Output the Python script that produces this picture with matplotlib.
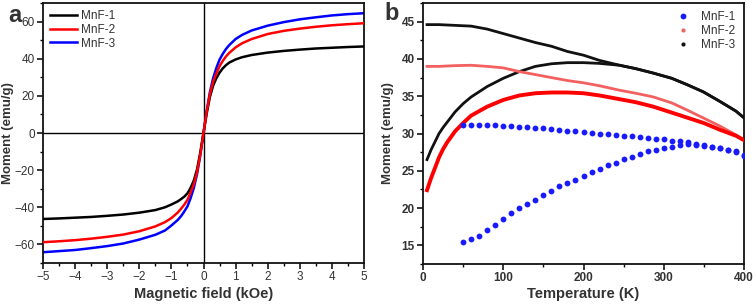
import matplotlib
matplotlib.use("Agg")
import matplotlib.pyplot as plt
from matplotlib.lines import Line2D
from matplotlib.ticker import MultipleLocator

plt.rcParams['font.family'] = ['Liberation Sans', 'DejaVu Sans']

# ---------------- Panel a: M-H loops ----------------
field = [-5, -4.5, -4, -3.5, -3, -2.5, -2, -1.5, -1.2, -1.0, -0.8, -0.7, -0.6, -0.5, -0.4, -0.3, -0.2, -0.1, 0,
         0.1, 0.2, 0.3, 0.4, 0.5, 0.6, 0.7, 0.8, 1.0, 1.2, 1.5, 2, 2.5, 3, 3.5, 4, 4.5, 5]
m_mnf1 = [-46.3, -46.0, -45.6, -45.2, -44.6, -43.9, -42.9, -41.5, -40.0, -38.5, -36.8, -35.6, -34.3, -32.5, -29.5,
          -25.5, -19.5, -10.5, 0,
          10.5, 19.5, 25.5, 29.5, 32.5, 34.8, 36.5, 37.9, 39.6, 40.8, 42.0, 43.3, 44.2, 44.9, 45.5, 45.9, 46.3, 46.6]
m_mnf2 = [-58.8, -58.3, -57.7, -56.9, -55.9, -54.7, -52.9, -50.3, -48.0, -45.8, -42.8, -40.8, -38.6, -36.0, -32.0,
          -27.5, -21.0, -11.5, 0,
          11.5, 21.0, 27.5, 32.0, 36.0, 38.8, 41.2, 43.1, 46.1, 48.3, 50.6, 53.3, 55.0, 56.2, 57.2, 58.0, 58.6, 59.1]
m_mnf3 = [-64.2, -63.6, -63.0, -62.0, -60.9, -59.5, -57.4, -54.8, -52.5, -49.8, -46.8, -44.8, -42.3, -39.5, -35.0,
          -29.5, -22.0, -12.0, 0,
          12.0, 22.0, 29.5, 35.0, 39.5, 42.6, 45.2, 47.3, 50.6, 52.8, 55.2, 57.8, 59.7, 61.2, 62.3, 63.3, 64.0, 64.5]

# ---------------- Panel b: ZFC / FC ----------------
t_blue = [50, 60, 70, 80, 90, 100, 110, 120, 130, 140, 150, 160, 170, 180, 190, 200, 210, 220,
          230, 240, 250, 260, 270, 280, 290, 300, 310, 320, 330, 340, 350, 360, 370, 380, 390, 400]
mnf1_zfc = [15.4, 15.8, 16.2, 17.0, 17.7, 18.5, 19.3, 20.0, 20.5, 21.1, 21.7, 22.3, 22.9, 23.3, 23.8, 24.3, 24.8, 25.3,
            25.8, 26.1, 26.6, 26.9, 27.3, 27.6, 27.8, 28.0, 28.2, 28.4, 28.6, 28.5, 28.3, 28.2, 28.0, 27.8, 27.6, 27.1]
mnf1_fc = [31.2, 31.2, 31.2, 31.1, 31.1, 31.0, 31.0, 30.9, 30.9, 30.8, 30.7, 30.6, 30.5, 30.4, 30.3, 30.2, 30.1, 30.0,
           29.9, 29.8, 29.7, 29.6, 29.5, 29.4, 29.3, 29.2, 29.05, 28.95, 28.8, 28.6, 28.4, 28.2, 28.0, 27.8, 27.5, 27.0]

t_red_zfc = [5, 10, 15, 20, 25, 30, 40, 50, 60, 80, 100, 120, 140, 160, 180, 200, 220, 245, 265, 287,
             310, 330, 350, 370, 390, 400]
mnf2_zfc = [22.4, 24.0, 25.4, 26.8, 27.9, 28.8, 30.3, 31.4, 32.4, 33.6, 34.5, 35.1, 35.4, 35.5, 35.5, 35.4, 35.1,
            34.6, 34.2, 33.6, 32.8, 32.1, 31.4, 30.5, 29.7, 29.1]
t_red_fc = [5, 20, 40, 60, 80, 100, 120, 140, 160, 180, 200, 220, 245, 265, 287, 310, 328, 349, 370, 390, 400]
mnf2_fc = [39.0, 39.0, 39.1, 39.15, 39.0, 38.8, 38.3, 37.9, 37.5, 37.1, 36.8, 36.4, 35.8, 35.4, 34.9, 34.1,
           33.2, 32.1, 31.0, 29.8, 29.1]

t_blk_zfc = [5, 10, 15, 20, 25, 30, 40, 50, 60, 80, 100, 120, 140, 160, 180, 200, 220, 245, 265, 287,
             310, 328, 349, 370, 390, 400]
mnf3_zfc = [26.5, 27.8, 28.9, 30.0, 30.8, 31.5, 32.9, 34.0, 34.9, 36.3, 37.4, 38.3, 39.0, 39.35, 39.5, 39.5, 39.4,
            39.15, 38.7, 38.1, 37.4, 36.6, 35.6, 34.3, 33.0, 32.1]
t_blk_fc = [5, 20, 40, 60, 80, 100, 120, 140, 160, 180, 200, 220, 245, 265, 287, 310, 328, 349, 370, 390, 400]
mnf3_fc = [44.6, 44.6, 44.5, 44.4, 44.0, 43.4, 42.8, 42.2, 41.7, 41.0, 40.5, 39.8, 39.15, 38.7, 38.1, 37.4,
           36.6, 35.6, 34.3, 33.0, 32.1]

labels = ["MnF-1", "MnF-2", "MnF-3"]

W, H = 756, 304
fig = plt.figure(figsize=(W / 100, H / 100), dpi=100)

txt = '#333333'
ax1 = fig.add_axes([43 / W, 41 / H, 321 / W, 260 / H])
ax2 = fig.add_axes([423 / W, 40 / H, 321 / W, 261 / H])

# panel a
ax1.axhline(0, color='black', lw=1.0, zorder=1)
ax1.axvline(0, color='black', lw=1.0, zorder=1)
ax1.plot(field, m_mnf1, color='black', lw=1.8, label=labels[0], zorder=3)
ax1.plot(field, m_mnf2, color='#ff0000', lw=1.8, label=labels[1], zorder=3)
ax1.plot(field, m_mnf3, color='#0000ff', lw=1.8, label=labels[2], zorder=2)
ax1.set_xlim(-5, 5)
ax1.set_ylim(-70, 70)
ax1.xaxis.set_major_locator(MultipleLocator(1))
ax1.xaxis.set_minor_locator(MultipleLocator(0.5))
ax1.yaxis.set_major_locator(MultipleLocator(20))
ax1.yaxis.set_minor_locator(MultipleLocator(10))
ax1.set_xlabel('Magnetic field (kOe)', fontsize=10.5, fontweight='bold', color=txt)
ax1.set_ylabel('Moment (emu/g)', fontsize=9.5, fontweight='bold', color=txt)
ax1.yaxis.set_label_coords((14 - 43) / 321, 0.5)
ax1.xaxis.set_label_coords(0.5, (263 - 287) / 260)
leg1 = ax1.legend(loc='upper left', frameon=False, fontsize=8.5, handlelength=2.3,
                  handletextpad=0.3, labelspacing=0.15, borderaxespad=0.2,
                  bbox_to_anchor=(0.0, 1.0))
for t in leg1.get_texts():
    t.set_color(txt)

# panel b
ax2.plot(t_blk_fc, mnf3_fc, color='#111111', lw=2.0, zorder=2)
ax2.plot(t_blk_zfc, mnf3_zfc, color='#111111', lw=2.0, zorder=2)
ax2.plot(t_red_fc, mnf2_fc, color='#f26060', lw=2.0, zorder=3)
ax2.plot(t_red_zfc, mnf2_zfc, color='#ff0000', lw=2.8, zorder=3)
ax2.plot(t_blue, mnf1_zfc, linestyle='none', marker='o', ms=4.2, color='#1a1aff',
         markeredgewidth=0, zorder=4)
ax2.plot(t_blue, mnf1_fc, linestyle='none', marker='o', ms=4.2, color='#1a1aff',
         markeredgewidth=0, zorder=4)
ax2.set_xlim(0, 400)
ax2.set_ylim(12.5, 47.5)
ax2.xaxis.set_major_locator(MultipleLocator(100))
ax2.xaxis.set_minor_locator(MultipleLocator(50))
ax2.yaxis.set_major_locator(MultipleLocator(5))
ax2.yaxis.set_minor_locator(MultipleLocator(2.5))
ax2.set_xlabel('Temperature (K)', fontsize=10.5, fontweight='bold', color=txt)
ax2.set_ylabel('Moment (emu/g)', fontsize=9.5, fontweight='bold', color=txt)
ax2.yaxis.set_label_coords((394 - 423) / 321, 0.5)
ax2.xaxis.set_label_coords(0.5, (264 - 287) / 261)
handles = [Line2D([], [], linestyle='none', marker='o', ms=4.2, color='#1a1aff', markeredgewidth=0),
           Line2D([], [], linestyle='none', marker='o', ms=3.0, color='#f26060', markeredgewidth=0),
           Line2D([], [], linestyle='none', marker='o', ms=3.0, color='#111111', markeredgewidth=0)]
leg2 = ax2.legend(handles, labels, loc='upper right', frameon=False, fontsize=8.5,
                  handlelength=1.5, handletextpad=0.8, labelspacing=0.15, borderaxespad=0.3)
for t in leg2.get_texts():
    t.set_color(txt)

for ax in (ax1, ax2):
    for s in ax.spines.values():
        s.set_linewidth(1.3)
        s.set_color('#111111')
    ax.tick_params(which='major', direction='out', length=4, width=1.1, labelsize=8.5,
                   labelcolor=txt, pad=2)
    ax.tick_params(which='minor', direction='out', length=2.5, width=1.0)
for lab in ax2.get_xticklabels() + ax2.get_yticklabels():
    lab.set_fontweight('bold')

fig.text(8 / W, 1 - 16 / H, 'a', fontsize=17, fontweight='bold', color=txt, va='center', ha='left')
fig.text(384 / W, 1 - 14 / H, 'b', fontsize=17, fontweight='bold', color=txt, va='center', ha='left')

fig.savefig('out.png', dpi=100)
